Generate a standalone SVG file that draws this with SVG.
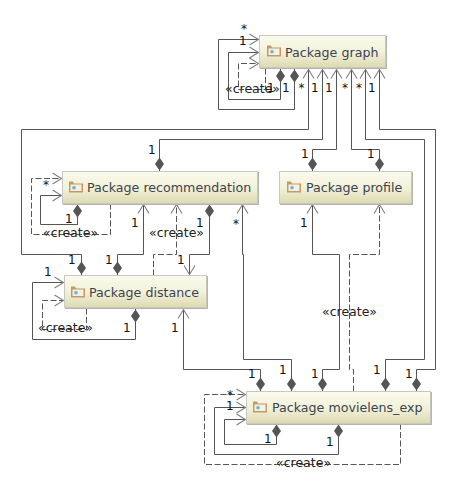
<svg xmlns="http://www.w3.org/2000/svg" width="454" height="494" viewBox="0 0 454 494">
<defs>
<linearGradient id="nodeFill" x1="0" y1="0" x2="0" y2="1"><stop offset="0" stop-color="#fbfbee"/><stop offset="0.55" stop-color="#f1f0d8"/><stop offset="1" stop-color="#dcdab0"/></linearGradient>
<marker id="open" markerUnits="userSpaceOnUse" markerWidth="12" markerHeight="14" refX="10" refY="6" orient="auto" overflow="visible"><path d="M1 0.500L10 6L1 11.500" fill="none" stroke="#808080" stroke-width="1.100"/></marker>
<marker id="dia" markerUnits="userSpaceOnUse" markerWidth="16" markerHeight="12" refX="0" refY="5" orient="auto" overflow="visible"><path d="M1 5L7.500 0.500L14 5L7.500 9.500Z" fill="#555"/></marker>
<g id="folder"><path d="M0 1.500h4l1 2h9v9H0Z" fill="#c49a63"/><rect x="1.500" y="4.500" width="11" height="6.500" fill="#f3f1e6"/><circle cx="5" cy="7.700" r="1.800" fill="#6fb0d0"/></g>
</defs>
<style>
.n{fill:url(#nodeFill);stroke:#c8c8c0;stroke-width:1}
.h{fill:#b4b4ae}
.t{font:12.650px "DejaVu Sans",sans-serif;fill:#3c4450}
.l{font:12px "DejaVu Sans",sans-serif;fill:#111}
.c{font:12.500px "DejaVu Sans",sans-serif;fill:#222}
.s,.d{fill:none;stroke:#555;stroke-width:1;marker-end:url(#open)}
.d{stroke-dasharray:6 2.500}
.m{marker-start:url(#dia)}
</style>
<rect width="454" height="494" fill="#fff"/>
<g id="connectors" transform="translate(.5 .5)">
<path class="s m" d="M294 68V109H218V39H258"/>
<path class="s m" d="M280 68V99H228V52H258"/>
<path class="d" d="M265 68V89H238V63H258"/>
<path class="s m" d="M81 275V254H21V129H308V69"/>
<path class="s m" d="M159 171V139H322V69"/>
<path class="s m" d="M312 171V149H336V69"/>
<path class="s m" d="M379 171V149H351V69"/>
<path class="s m" d="M77 203V224H40V195H61"/>
<path class="d" d="M110 203V234H31V178H61"/>
<path class="s m" d="M117 275V254H143V204"/>
<path class="d" d="M153 275V254H176V204"/>
<path class="s m" d="M209 203V254H189V274"/>
<path class="s m" d="M291 391V359H243V254H242V204"/>
<path class="s m" d="M135 308V339H32V282H63"/>
<path class="d" d="M86 308V329H42V300H63"/>
<path class="s m" d="M260 391V369H183V309"/>
<path class="s m" d="M322 391V369H339V254H312V204"/>
<path class="d" d="M353 391V369H349V254H379V204"/>
<path class="s m" d="M385 391V359H424V139H365V69"/>
<path class="s m" d="M416 391V369H435V129H379V69"/>
<path class="d" d="M400 423V464H204V394H245"/>
<path class="s m" d="M338 423V454H214V407H245"/>
<path class="s m" d="M276 423V444H224V419H245"/>
</g>
<g id="graph"><rect class="h" x="260" y="36" width="127" height="33"/><rect class="n" x="259.500" y="35.500" width="126" height="32"/><use href="#folder" x="267" y="44"/><text class="t" x="285" y="57">Package graph</text></g>
<g id="recommendation"><rect class="h" x="63" y="172" width="196" height="33"/><rect class="n" x="62.500" y="171.500" width="195" height="32"/><use href="#folder" x="69" y="180"/><text class="t" x="87" y="192">Package recommendation</text></g>
<g id="profile"><rect class="h" x="280" y="172" width="133" height="33"/><rect class="n" x="279.500" y="171.500" width="132" height="32"/><use href="#folder" x="287" y="180"/><text class="t" x="306" y="192">Package profile</text></g>
<g id="distance"><rect class="h" x="65" y="276" width="143" height="33"/><rect class="n" x="64.500" y="275.500" width="142" height="32"/><use href="#folder" x="71" y="285"/><text class="t" x="89" y="297">Package distance</text></g>
<g id="movielens"><rect class="h" x="247" y="392" width="185" height="33"/><rect class="n" x="246.500" y="391.500" width="184" height="32"/><use href="#folder" x="253" y="400"/><text class="t" x="272" y="412">Package movielens_exp</text></g>
<g id="labels">
<text class="l" x="241" y="33">*</text><text class="l" x="239" y="45">1</text>
<text class="c" x="225" y="93">«create»</text>
<text class="l" x="267" y="92">1</text><text class="l" x="282" y="92">1</text><text class="l" x="298.500" y="92">*</text><text class="l" x="311" y="92">1</text><text class="l" x="325" y="92">1</text><text class="l" x="342" y="92">*</text><text class="l" x="356" y="92">*</text><text class="l" x="368" y="92">1</text>
<text class="l" x="148" y="154">1</text><text class="l" x="301" y="158">1</text><text class="l" x="367" y="158">1</text>
<text class="l" x="43" y="189">*</text><text class="l" x="65" y="223">1</text>
<text class="c" x="43" y="237">«create»</text><text class="c" x="149" y="237">«create»</text>
<text class="l" x="131" y="227">1</text><text class="l" x="196" y="227">1</text><text class="l" x="233" y="228">*</text><text class="l" x="300" y="227">1</text>
<text class="l" x="68" y="264">1</text><text class="l" x="105" y="264">1</text><text class="l" x="177" y="264">1</text><text class="l" x="44" y="276">1</text>
<text class="c" x="38" y="332">«create»</text><text class="l" x="123" y="332">1</text><text class="l" x="171" y="332">1</text>
<text class="c" x="322" y="316">«create»</text>
<text class="l" x="248" y="378">1</text><text class="l" x="279" y="374">1</text><text class="l" x="311" y="378">1</text><text class="l" x="373" y="374">1</text><text class="l" x="405" y="378">1</text>
<text class="l" x="227" y="399">*</text><text class="l" x="226" y="410">1</text>
<text class="l" x="264" y="443">1</text><text class="l" x="326" y="446">1</text>
<text class="c" x="276" y="467">«create»</text>
</g>
</svg>
